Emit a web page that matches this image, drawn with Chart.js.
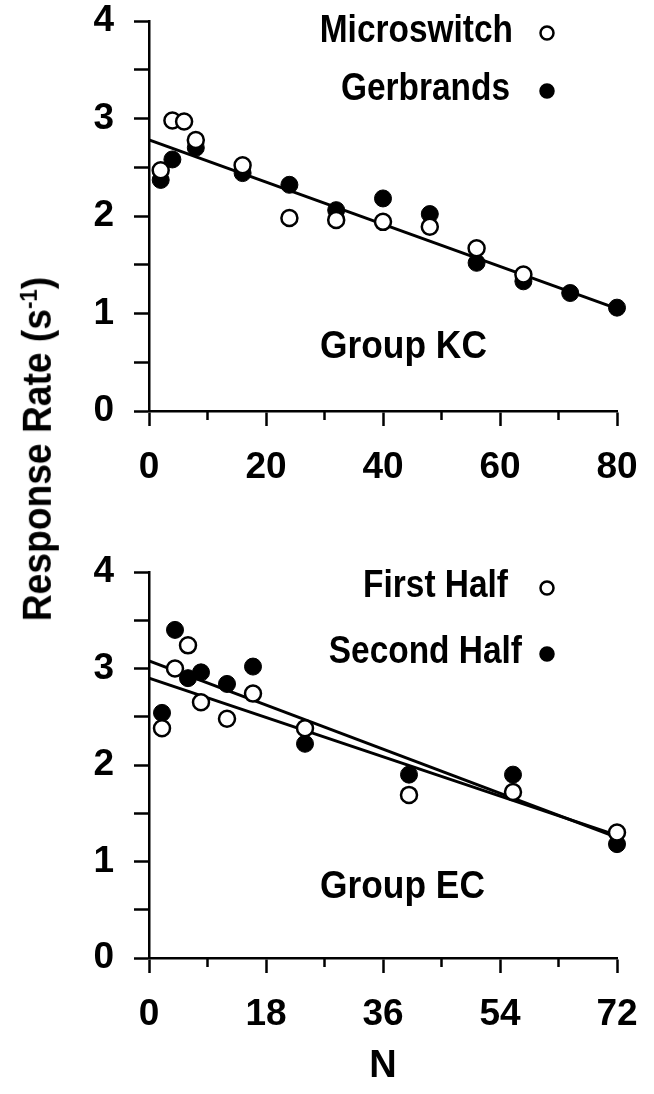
<!DOCTYPE html>
<html>
<head>
<meta charset="utf-8">
<script src="https://cdn.jsdelivr.net/npm/chart.js@4.4.1/dist/chart.umd.min.js"></script>
<style>
  body { margin: 0; background: #fff; }
  #wrap { position: relative; width: 654px; height: 1094px; overflow: hidden; }
  canvas { position: absolute; left: 0; }
  #kc { top: 0; }
  #ec { top: 520px; }
  #ytitle {
    position: absolute; left: 37px; top: 449px;
    transform: translate(-50%, -50%) rotate(-90deg) scaleX(0.93);
    font: bold 40px "Liberation Sans", Arial, sans-serif;
    line-height: 1; white-space: nowrap; color: #000;
  }
  #ytitle sup { font-size: 0.6em; }
</style>
</head>
<body>
<div id="wrap">
  <canvas id="kc" width="654" height="520"></canvas>
  <canvas id="ec" width="654" height="574"></canvas>
  <div id="ytitle">Response Rate (s<sup>-1</sup>)</div>
</div>
<script>
// Group KC
const kcMicroN = [2, 4, 6, 8, 16, 24, 32, 40, 48, 56, 64];
const kcMicroRate = [2.47, 2.98, 2.97, 2.78, 2.52, 1.98, 1.96, 1.94, 1.89, 1.67, 1.40];
const kcGerbN = [2, 4, 8, 16, 24, 32, 40, 48, 56, 64, 72, 80];
const kcGerbRate = [2.37, 2.58, 2.70, 2.44, 2.32, 2.06, 2.18, 2.02, 1.52, 1.33, 1.21, 1.06];
const kcFitN = [0, 80];
const kcFitRate = [2.78, 1.05];

// Group EC
const ecFirstN = [2, 4, 6, 8, 12, 16, 24, 40, 56, 72];
const ecFirstRate = [2.38, 3.00, 3.24, 2.65, 2.48, 2.74, 2.38, 1.69, 1.72, 1.30];
const ecSecondN = [2, 4, 6, 8, 12, 16, 24, 40, 56, 72];
const ecSecondRate = [2.54, 3.40, 2.90, 2.96, 2.84, 3.02, 2.22, 1.90, 1.90, 1.18];
const ecFitN = [0, 72];
const ecFitFirst = [2.90, 1.27];
const ecFitSecond = [3.08, 1.25];

const kcXTicks = [0, 20, 40, 60, 80];
const ecXTicks = [0, 18, 36, 54, 72];
const yTicks = [0, 1, 2, 3, 4];

const FONT = '"Liberation Sans", Arial, sans-serif';

const pts = (xs, ys) => xs.map((x, i) => ({ x: x, y: ys[i] }));

function squeezedText(ctx, text, x, y, align, squeeze) {
    ctx.save();
    ctx.translate(x, y);
    ctx.scale(squeeze, 1);
    ctx.font = 'bold 38px ' + FONT;
    ctx.fillStyle = '#000';
    ctx.textAlign = align;
    ctx.textBaseline = 'middle';
    ctx.fillText(text, 0, 0);
    ctx.restore();
}

// short ticks half way between the labelled ones
const minorTicks = {
    id: 'minorTicks',
    afterDraw(chart, args, opts) {
        const xs = chart.scales.x;
        const ctx = chart.ctx;
        ctx.save();
        ctx.strokeStyle = '#000';
        ctx.lineWidth = 2.5;
        for (let v = opts.step / 2; v < xs.max; v += opts.step) {
            const px = xs.getPixelForValue(v);
            ctx.beginPath();
            ctx.moveTo(px, xs.top);
            ctx.lineTo(px, xs.top + opts.length);
            ctx.stroke();
        }
        ctx.restore();
    }
};

// group name + legend with the marker on the right of the text
const labels = {
    id: 'labels',
    afterDraw(chart, args, opts) {
        const ctx = chart.ctx;
        const a = chart.chartArea;
        const xs = chart.scales.x, ys = chart.scales.y;
        squeezedText(ctx, opts.group, xs.getPixelForValue(opts.groupAt[0]), ys.getPixelForValue(opts.groupAt[1]), 'center', 0.93);

        opts.items.forEach((idx, row) => {
            const ds = chart.data.datasets[idx];
            const y = a.top + opts.rowTop + row * opts.rowGap;
            squeezedText(ctx, ds.label, a.left + opts.textRight[row], y, 'right', 0.88);
            ctx.save();
            ctx.beginPath();
            ctx.arc(a.left + opts.markerX, y + 1, opts.markerR, 0, Math.PI * 2);
            ctx.fillStyle = ds.backgroundColor;
            ctx.fill();
            ctx.lineWidth = 2.5;
            ctx.strokeStyle = '#000';
            ctx.stroke();
            ctx.restore();
        });
    }
};

function axisOpts(min, max, step, ticks, extra) {
    return Object.assign({
        type: 'linear',
        min: min,
        max: max,
        border: { display: true, color: '#000', width: 2.5 },
        grid: { display: true, drawOnChartArea: false, drawTicks: true, tickLength: 15, tickColor: '#000', tickWidth: 2.5 },
        ticks: {
            stepSize: step,
            padding: 20,
            color: '#000',
            font: { family: FONT, size: 37, weight: 'bold' },
            callback: v => ticks.includes(v) ? String(v) : ''
        }
    }, extra);
}

function makeChart(id, cfg) {
    return new Chart(document.getElementById(id), {
        type: 'scatter',
        data: {
            datasets: [
                {
                    label: cfg.openLabel, data: cfg.open, order: 0, clip: false,
                    pointRadius: 8, pointHoverRadius: 8, borderWidth: 2.5,
                    backgroundColor: '#fff', borderColor: '#000'
                },
                {
                    label: cfg.fillLabel, data: cfg.filled, order: 1, clip: false,
                    pointRadius: 8.5, pointHoverRadius: 8.5, borderWidth: 1,
                    backgroundColor: '#000', borderColor: '#000'
                }
            ].concat(cfg.fits.map(f => ({
                label: 'fit', data: f, order: 2, showLine: true, clip: false,
                pointRadius: 0, borderWidth: 3, borderColor: '#000'
            })))
        },
        options: {
            responsive: false,
            animation: false,
            events: [],
            layout: { padding: { top: cfg.top, right: 37, bottom: 0, left: 0 } },
            plugins: {
                legend: { display: false },
                tooltip: { enabled: false },
                minorTicks: { step: cfg.xStep, length: 9 },
                labels: {
                    group: cfg.group, groupAt: cfg.groupAt, items: [0, 1],
                    textRight: cfg.textRight, markerX: 398, markerR: 6.5, rowTop: cfg.rowTop, rowGap: cfg.rowGap
                }
            },
            scales: {
                x: axisOpts(0, cfg.xMax, cfg.xStep, cfg.xTicks, {
                    afterFit: s => { s.height = cfg.xHeight; s.paddingLeft = 0; s.paddingRight = 0; },
                    title: cfg.xTitle
                }),
                y: axisOpts(0, 4, 0.5, yTicks, {
                    afterFit: s => { s.width = 149; s.paddingTop = 0; s.paddingBottom = 0; }
                })
            }
        },
        plugins: [minorTicks, labels]
    });
}

makeChart('kc', {
    openLabel: 'Microswitch', fillLabel: 'Gerbrands',
    open: pts(kcMicroN, kcMicroRate),
    filled: pts(kcGerbN, kcGerbRate),
    fits: [pts(kcFitN, kcFitRate)],
    xMax: 80, xStep: 20, xTicks: kcXTicks,
    top: 21, xHeight: 109,
    group: 'Group KC', groupAt: [43.5, 0.65],
    rowTop: 11, rowGap: 58, textRight: [364, 361],
    xTitle: { display: false }
});

makeChart('ec', {
    openLabel: 'First Half', fillLabel: 'Second Half',
    open: pts(ecFirstN, ecFirstRate),
    filled: pts(ecSecondN, ecSecondRate),
    fits: [pts(ecFitN, ecFitFirst), pts(ecFitN, ecFitSecond)],
    xMax: 72, xStep: 18, xTicks: ecXTicks,
    top: 52, xHeight: 136,
    group: 'Group EC', groupAt: [39, 0.73],
    rowTop: 15, rowGap: 66, textRight: [359, 373],
    xTitle: {
        display: true, text: 'N', color: '#000',
        font: { family: FONT, size: 38, weight: 'bold', lineHeight: 1.2 },
        padding: { top: 0, bottom: 5 }
    }
});
</script>
</body>
</html>
